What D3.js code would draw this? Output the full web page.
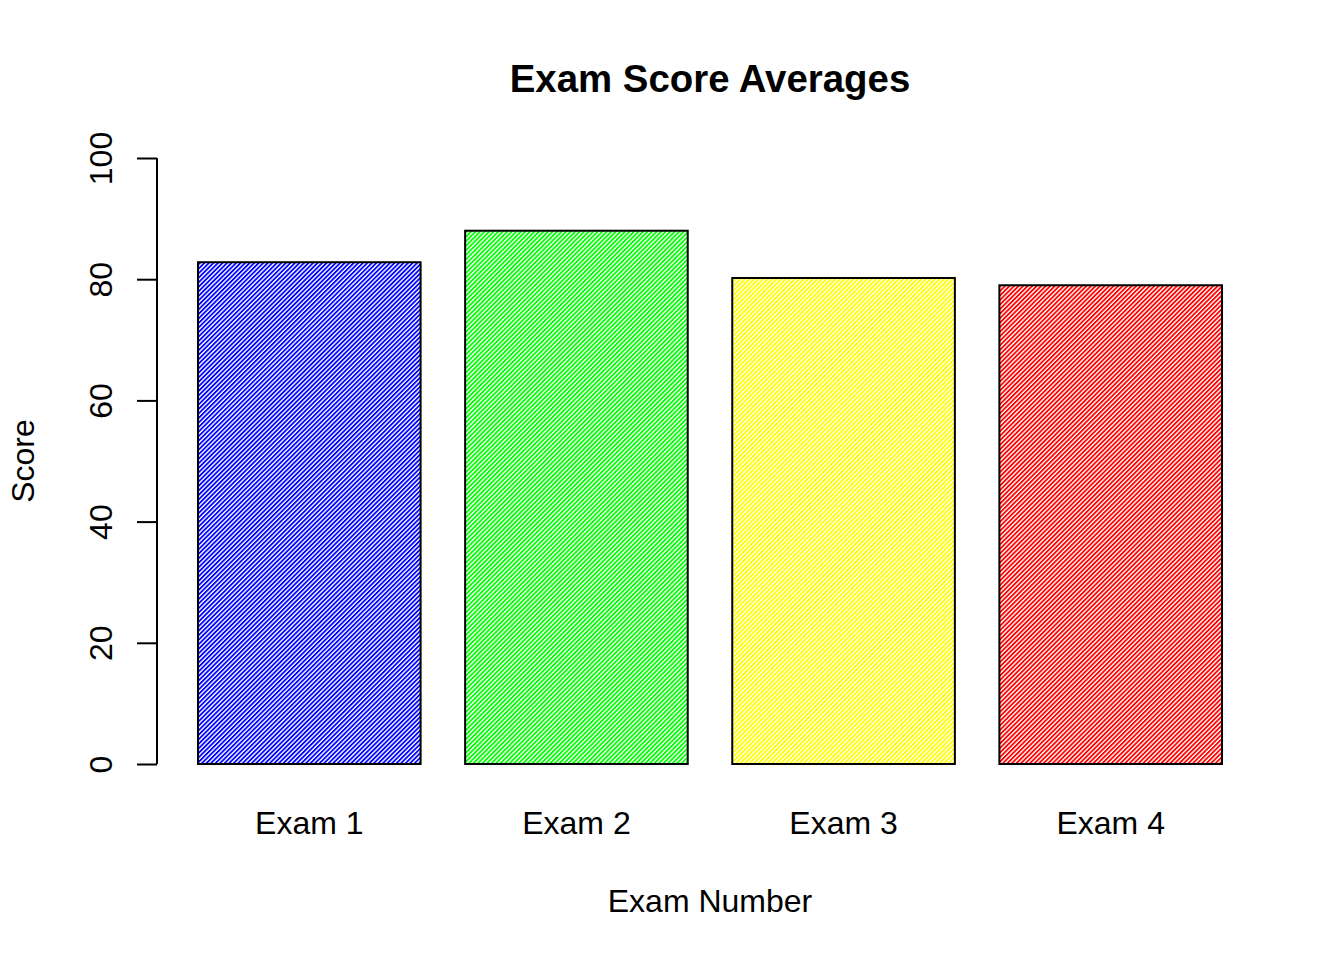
<!DOCTYPE html>
<html>
<head>
<meta charset="utf-8">
<script src="https://cdn.jsdelivr.net/npm/d3@7"></script>
<style>
  html, body { margin: 0; padding: 0; background: #fff; }
  svg { display: block; font-family: "Liberation Sans", Arial, Helvetica, sans-serif; }
</style>
</head>
<body>
<svg id="chart" width="1344" height="960"></svg>
<script>
const categories = ["Exam 1", "Exam 2", "Exam 3", "Exam 4"];
const scores = [82.8, 88.0, 80.2, 79.0];
const colors = ["#0000FF", "#00FF00", "#FFFF00", "#FF0000"];
const yTicks = [0, 20, 40, 60, 80, 100];

const svg = d3.select("#chart");

const x = d3.scaleBand()
  .domain(categories)
  .range([198, 1222])
  .paddingInner(0.2 / 1.2)
  .paddingOuter(0);

const y = d3.scaleLinear().domain([0, 100]).range([764, 158]);

// hatch patterns (45 degree lines)
const defs = svg.append("defs");
const sp = 3.2;
colors.forEach((c, i) => {
  const p = defs.append("pattern")
    .attr("id", "hatch" + i)
    .attr("patternUnits", "userSpaceOnUse")
    .attr("width", sp)
    .attr("height", 20)
    .attr("patternTransform", "rotate(45)");
  p.append("rect").attr("x", 0).attr("y", 0).attr("width", sp).attr("height", 20).attr("fill", "#fff");
  p.append("rect").attr("x", 0).attr("y", 0).attr("width", 1.8).attr("height", 20).attr("fill", c);
});

// bars
svg.append("g").selectAll("rect")
  .data(categories)
  .join("rect")
  .attr("x", d => x(d))
  .attr("y", (d, i) => y(scores[i]))
  .attr("width", x.bandwidth())
  .attr("height", (d, i) => y(0) - y(scores[i]))
  .attr("fill", (d, i) => `url(#hatch${i})`)
  .attr("stroke", "#000")
  .attr("stroke-width", 2);

// y axis
const yAxis = d3.axisLeft(y).tickValues(yTicks).tickSize(20).tickPadding(0).tickFormat(d3.format("d"));
const gy = svg.append("g").attr("transform", "translate(157,0)").call(yAxis);
gy.select(".domain").attr("d", `M-0,${y(0)}V${y(100)}`).attr("stroke", "#000").attr("stroke-width", 2);
gy.selectAll(".tick line").attr("stroke", "#000").attr("stroke-width", 2);
gy.selectAll(".tick text")
  .attr("font-size", 32)
  .attr("fill", "#000")
  .attr("font-family", '"Liberation Sans", Arial, sans-serif')
  .attr("text-anchor", "middle")
  .attr("dy", null)
  .attr("x", null)
  .attr("transform", "translate(-45,0) rotate(-90)")
  .attr("y", 0);

// category labels
svg.append("g").selectAll("text")
  .data(categories)
  .join("text")
  .attr("x", d => x(d) + x.bandwidth() / 2)
  .attr("y", 834)
  .attr("text-anchor", "middle")
  .attr("font-size", 32)
  .attr("fill", "#000")
  .text(d => d);

// title
svg.append("text")
  .attr("x", 710).attr("y", 92)
  .attr("text-anchor", "middle")
  .attr("font-size", 38.4)
  .attr("font-weight", "bold")
  .text("Exam Score Averages");

// axis titles
svg.append("text")
  .attr("x", 710).attr("y", 912)
  .attr("text-anchor", "middle")
  .attr("font-size", 32)
  .text("Exam Number");

svg.append("text")
  .attr("transform", "translate(34,461) rotate(-90)")
  .attr("text-anchor", "middle")
  .attr("font-size", 32)
  .text("Score");
</script>
</body>
</html>
